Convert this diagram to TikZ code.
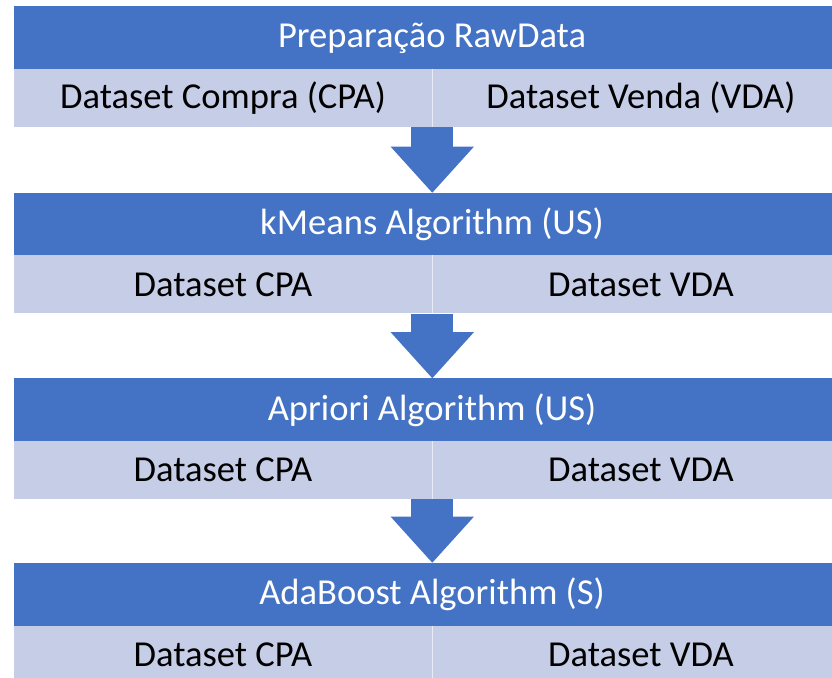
\documentclass[tikz,border=0pt]{standalone}
\usepackage{fontspec}
\setmainfont{Carlito}
\usetikzlibrary{arrows.meta,calc}
\definecolor{headblue}{HTML}{4472C4}
\definecolor{cellblue}{HTML}{C6CDE6}

\begin{document}
\begin{tikzpicture}[
  x=1cm, y=1cm,
  headbar/.style={rectangle, fill=headblue, text=white, inner sep=0pt, minimum width=20.9cm, minimum height=1.575cm, font=\fontsize{26}{31}\selectfont},
  cellbar/.style={rectangle, fill=cellblue, text=black, inner sep=0pt, minimum width=10.45cm, minimum height=1.45cm, font=\fontsize{26}{31}\selectfont},
  divider/.style={draw=white, opacity=0.6, line width=0.6pt},
  flow/.style={draw=headblue, line width=1.05cm, -{Triangle[width=2.08cm, length=1.15cm, line width=0pt]}}
]
  \useasboundingbox (0,0) rectangle (20.8,-16.95);

  % Stage 1: raw data
  \node[headbar] (head1) at (10.8, -0.95) {Preparação RawData};
  \node[cellbar] (cpa1) at (5.575, -2.45) {Dataset Compra (CPA)};
  \node[cellbar] (vda1) at (16.025, -2.45) {Dataset Venda (VDA)};
  \draw[divider] (cpa1.north east) -- (cpa1.south east);

  % Stage 2: kMeans
  \node[headbar] (head2) at (10.8, -5.6125) {kMeans Algorithm (US)};
  \node[cellbar] (cpa2) at (5.575, -7.1125) {Dataset CPA};
  \node[cellbar] (vda2) at (16.025, -7.1125) {Dataset VDA};
  \draw[divider] (cpa2.north east) -- (cpa2.south east);

  % Stage 3: Apriori
  \node[headbar] (head3) at (10.8, -10.25) {Apriori Algorithm (US)};
  \node[cellbar] (cpa3) at (5.575, -11.75) {Dataset CPA};
  \node[cellbar] (vda3) at (16.025, -11.75) {Dataset VDA};
  \draw[divider] (cpa3.north east) -- (cpa3.south east);

  % Stage 4: AdaBoost
  \node[headbar] (head4) at (10.8, -14.8625) {AdaBoost Algorithm (S)};
  \node[cellbar] (cpa4) at (5.575, -16.375) {Dataset CPA};
  \node[cellbar] (vda4) at (16.025, -16.375) {Dataset VDA};
  \draw[divider] (cpa4.north east) -- (cpa4.south east);

  % Flow arrows
  \draw[flow] (cpa1.south east) -- (cpa1.south east |- head2.north);
  \draw[flow] (cpa2.south east) -- (cpa2.south east |- head3.north);
  \draw[flow] (cpa3.south east) -- (cpa3.south east |- head4.north);

\end{tikzpicture}
\end{document}
